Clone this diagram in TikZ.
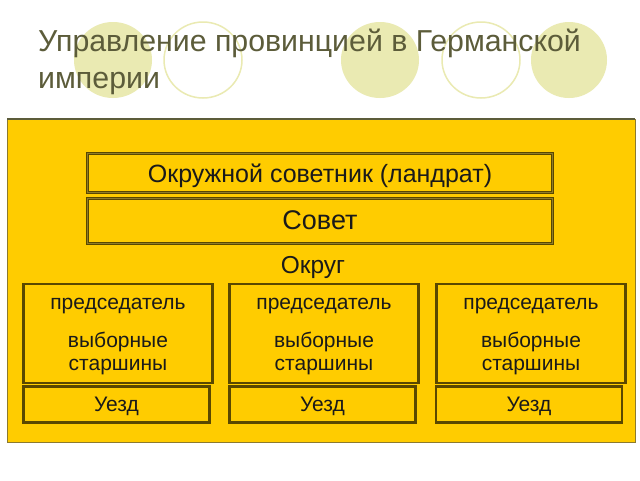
\documentclass[tikz,border=0pt]{standalone}
\usepackage{fontspec}
\setmainfont{Liberation Sans}
\definecolor{titlecol}{HTML}{5C5C3A}
\definecolor{circfill}{HTML}{EAEAB2}
\definecolor{panelfill}{HTML}{FFCC00}
\definecolor{paneledge}{HTML}{8C7A2E}
\definecolor{boxedge}{HTML}{5A4800}
\definecolor{boxinner}{HTML}{8F7C2A}
\definecolor{txt}{HTML}{1A1A1A}
\begin{document}
\begin{tikzpicture}[x=1pt,y=-1pt,
  bigbox/.style={draw=boxedge, double=boxinner, double distance=1pt, line width=1pt, fill=panelfill, inner sep=0pt},
  smallbox/.style={draw=boxedge, line width=2.4pt, fill=panelfill, inner sep=0pt},
  lbl/.style={text=txt, inner sep=0pt, anchor=base, font=\fontsize{21}{25}\selectfont},
  circf/.style={fill=circfill, draw=none},
  circo/.style={draw=circfill, line width=1.5pt, fill=none}
]
\useasboundingbox (0,0) rectangle (640,480);
\fill[white] (0,0) rectangle (640,480);
% decorative circles
\path[circf] (113,60) ellipse [x radius=39, y radius=38];
\path[circo] (203,60) ellipse [x radius=39, y radius=38];
\path[circf] (380,60) ellipse [x radius=39, y radius=38];
\path[circo] (481,60) ellipse [x radius=39, y radius=38];
\path[circf] (569,60) ellipse [x radius=38, y radius=38];
% title
\node[anchor=base west, inner sep=0pt, text=titlecol, font=\fontsize{30.3}{36}\selectfont] (t1) at (38,51) {Управление провинцией в Германской};
\node[anchor=base west, inner sep=0pt, text=titlecol, font=\fontsize{30.3}{36}\selectfont] (t2) at (38,88) {империи};
% panel
\draw[paneledge, line width=0.8pt, fill=panelfill] (7,119) rectangle (635,442);
\draw[titlecol, line width=1.6pt] (7,119) -- (635,119);
% top boxes
\node[bigbox, minimum width=465pt, minimum height=39pt] (landrat) at (320,173) {};
\node[lbl, font=\fontsize{25}{29}\selectfont] (landratt) at (320,182) {Окружной советник (ландрат)};
\node[bigbox, minimum width=465pt, minimum height=45pt] (sovet) at (320,221) {};
\node[lbl, font=\fontsize{27}{31}\selectfont] (sovett) at (320,229) {Совет};
\node[lbl, font=\fontsize{24.5}{28}\selectfont] (okrug) at (313,273) {Округ};
% district boxes
\foreach \n/\cx/\ux in {a/118/116.5, b/324/322.5, c/531/529}{
  \node[smallbox, minimum width=189pt, minimum height=99pt] (pred\n) at (\cx,333.5) {};
  \node[lbl] (predt\n) at (\cx,309) {председатель};
  \node[lbl] (vyb\n) at (\cx,347) {выборные};
  \node[lbl] (star\n) at (\cx,370) {старшины};
  \node[smallbox, minimum width=186pt, minimum height=36pt] (uezd\n) at (\ux,404.5) {};
  \node[lbl] (uezdt\n) at (\ux,411) {Уезд};
}
\end{tikzpicture}
\end{document}
